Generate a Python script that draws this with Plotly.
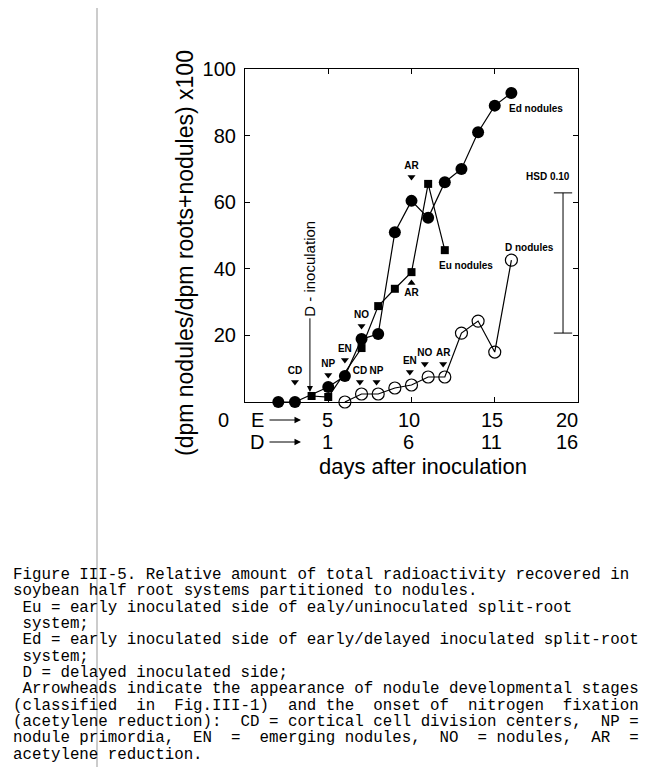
import plotly.graph_objects as go

# ---------------- data ----------------
ed_x = [2, 3, 5, 6, 7, 8, 9, 10, 11, 12, 13, 14, 15, 16]
ed_y = [0, 0, 4.5, 7.8, 18.9, 20.4, 51, 60.4, 55.3, 66, 70, 81, 89, 92.8]

eu_x = [4, 5, 7, 8, 9, 10, 11, 12]
eu_y = [1.8, 1.5, 16.2, 28.8, 34, 39, 65.5, 45.6]

d_x = [6, 7, 8, 9, 10, 11, 12, 13, 14, 15, 16]
d_y = [0, 2.4, 2.4, 4.2, 5.1, 7.5, 7.5, 20.7, 24.3, 15, 42.6]

stage_labels = ["CD", "NP", "EN", "NO", "CD", "NP", "AR", "EN", "NO", "AR"]
stage_x = [3, 5, 6, 7, 6.9, 7.9, 10, 9.9, 10.8, 11.9]
stage_y = [6.0, 8.1, 12.6, 22.8, 6.0, 6.0, 67.6, 9.0, 11.4, 11.4]

eu_ar_label = ["AR"]
eu_ar_x = [10]
eu_ar_y = [35.7]

hsd_label = "HSD 0.10"
hsd_x = 19.1
hsd_low = 20.7
hsd_high = 62.8

d_inoc_day = 3.9

y_ticks = [20, 40, 60, 80, 100]
e_days = [5, 10, 15, 20]
d_days = ["1", "6", "11", "16"]

caption = [
    "Figure III-5. Relative amount of total radioactivity recovered in",
    "soybean half root systems partitioned to nodules.",
    " Eu = early inoculated side of ealy/uninoculated split-root",
    " system;",
    " Ed = early inoculated side of early/delayed inoculated split-root",
    " system;",
    " D = delayed inoculated side;",
    " Arrowheads indicate the appearance of nodule developmental stages",
    "(classified  in  Fig.III-1)  and the  onset of  nitrogen  fixation",
    "(acetylene reduction):  CD = cortical cell division centers,  NP =",
    "nodule primordia,  EN  =  emerging nodules,  NO  = nodules,  AR  =",
    "acetylene reduction.",
]

# ---------------- layout geometry ----------------
OFF = 8                      # page body margin of the browser
W, H = 652 - OFF, 767 - OFF
L, R, T, B = 245 - OFF, 578 - OFF, 69 - OFF, 402 - OFF
SANS = "Liberation Sans, Arial, sans-serif"
MONO = "Liberation Mono, Courier New, monospace"


def px_x(px):
    return (px - OFF - L) / (R - L)


def px_y(py):
    return (B - (py - OFF)) / (B - T)


fig = go.Figure()

# D nodules (open circles)
fig.add_trace(go.Scatter(
    x=d_x, y=d_y, mode="lines+markers", cliponaxis=False,
    line=dict(color="black", width=1.2),
    marker=dict(symbol="circle-open", size=12, color="black", line=dict(width=1.2)),
    showlegend=False))

# Eu nodules (filled squares)
fig.add_trace(go.Scatter(
    x=eu_x, y=eu_y, mode="lines+markers", cliponaxis=False,
    line=dict(color="black", width=1.2),
    marker=dict(symbol="square", size=8, color="black"),
    showlegend=False))

# Ed nodules (filled circles)
fig.add_trace(go.Scatter(
    x=ed_x, y=ed_y, mode="lines+markers", cliponaxis=False,
    line=dict(color="black", width=1.2),
    marker=dict(symbol="circle", size=12, color="black"),
    showlegend=False))

# stage arrowheads
fig.add_trace(go.Scatter(
    x=stage_x, y=stage_y, mode="markers+text", text=stage_labels,
    textposition="top center", cliponaxis=False,
    textfont=dict(family=SANS, size=10, color="black", weight="bold"),
    marker=dict(symbol="triangle-down", size=7, color="black"),
    showlegend=False))
fig.add_trace(go.Scatter(
    x=eu_ar_x, y=eu_ar_y, mode="markers+text", text=eu_ar_label,
    textposition="bottom center", cliponaxis=False,
    textfont=dict(family=SANS, size=10, color="black", weight="bold"),
    marker=dict(symbol="triangle-up", size=7, color="black"),
    showlegend=False))

# HSD bar
cap = 0.55
fig.add_trace(go.Scatter(
    x=[hsd_x - cap, hsd_x + cap, None, hsd_x, hsd_x, None, hsd_x - cap, hsd_x + cap],
    y=[hsd_high, hsd_high, None, hsd_high, hsd_low, None, hsd_low, hsd_low],
    mode="lines", line=dict(color="black", width=1), showlegend=False, cliponaxis=False))

ann = []
bold10 = dict(family=SANS, size=10, color="black", weight="bold")


def label(x, y, text, font, xref="x", yref="y", **kw):
    d = dict(x=x, y=y, xref=xref, yref=yref, text=text, showarrow=False,
             font=font, xanchor="center", yanchor="middle")
    d.update(kw)
    ann.append(d)


label(hsd_x - 0.9, 67.6, hsd_label, bold10)
label(ed_x[-1] + 1.5, 88, "Ed nodules", bold10)
label(eu_x[-1] + 1.3, 41, "Eu nodules", bold10)
label(d_x[-1] + 1.1, 46.5, "D nodules", bold10)

# D - inoculation arrow
ann.append(dict(x=d_inoc_day, y=3, xref="x", yref="y", ax=d_inoc_day, ay=40,
                axref="x", ayref="y", text="D - inoculation", textangle=-90,
                showarrow=True, arrowhead=2, arrowsize=1.2, arrowwidth=1,
                arrowcolor="black", font=dict(family=SANS, size=15, color="black")))

# x tick label rows
big = dict(family=SANS, size=20, color="black")
row1, row2 = px_y(420), px_y(442)
shifts = [-1, -3, -3, -11]
for v, lab, s in zip(e_days, d_days, shifts):
    label(v, row1, str(v), big, yref="paper", xshift=s)
    label(v, row2, lab, big, yref="paper", xshift=s)
label(px_x(223), row1, "0", big, xref="paper", yref="paper")
for r, t in [(row1, "E"), (row2, "D")]:
    label(px_x(257), r, t, big, xref="paper", yref="paper")
    ann.append(dict(x=px_x(301), y=r, xref="paper", yref="paper", text="",
                    ax=-33, ay=0, axref="pixel", ayref="pixel", showarrow=True,
                    arrowhead=2, arrowsize=1.3, arrowwidth=1, arrowcolor="black"))

label(px_x(423), px_y(466), "days after inoculation",
      dict(family=SANS, size=22, color="black"), xref="paper", yref="paper")
label(px_x(185), px_y(253), "(dpm nodules/dpm roots+nodules) x100",
      dict(family=SANS, size=23, color="black"), xref="paper", yref="paper",
      textangle=-90)

# caption
y0, pitch = 575, 16.35
for i, line in enumerate(caption):
    label(px_x(11), px_y(y0 + i * pitch), line.replace(" ", "\u00a0"),
          dict(family=MONO, size=15.8, color="black"), xref="paper", yref="paper",
          xanchor="left")

fig.update_layout(
    width=W, height=H, autosize=False,
    margin=dict(l=L, r=W - R, t=T, b=H - B, pad=0),
    paper_bgcolor="white", plot_bgcolor="white",
    annotations=ann,
    shapes=[dict(type="line", xref="paper", yref="paper",
                 x0=px_x(97), x1=px_x(97), y0=px_y(OFF), y1=px_y(767),
                 line=dict(color="#999999", width=1))],
    xaxis=dict(range=[0, 20], showgrid=False, zeroline=False, showline=True,
               linecolor="black", linewidth=1.2, mirror="ticks", ticks="inside",
               ticklen=5, tickcolor="black", tickvals=[5, 10, 15],
               showticklabels=False),
    yaxis=dict(range=[0, 100], showgrid=False, zeroline=False, showline=True,
               linecolor="black", linewidth=1.2, mirror="ticks", ticks="inside",
               ticklen=5, tickcolor="black", tickvals=y_ticks, ticklabelstandoff=4,
               tickfont=dict(family=SANS, size=20, color="black")),
)

fig.write_html("out.html")
